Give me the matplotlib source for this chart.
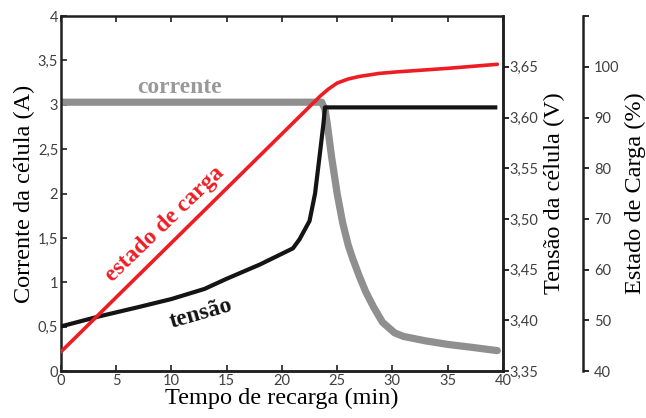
import matplotlib.pyplot as plt
from matplotlib.ticker import FuncFormatter

# ---------------------------------------------------------------------------
# Data
# ---------------------------------------------------------------------------
current_t = [0, 23.6, 23.9, 24.1, 24.5, 25.0, 25.5, 26.0, 26.4, 27.0, 27.6, 28.3,
             29.1, 30.2, 31.0, 33.0, 35.0, 37.0, 39.5]
current_a = [3.03, 3.03, 2.95, 2.79, 2.41, 2.0, 1.67, 1.42, 1.27, 1.07, 0.89, 0.72,
             0.55, 0.43, 0.39, 0.34, 0.30, 0.27, 0.23]

voltage_t = [0, 3.5, 7, 10, 13, 15, 18, 21, 21.6, 22.0, 22.5, 23.0, 23.4, 23.76,
             23.9, 39.5]
voltage_v = [3.394, 3.404, 3.413, 3.421, 3.431, 3.441, 3.455, 3.471, 3.48, 3.488,
             3.498, 3.525, 3.561, 3.594, 3.61, 3.61]

soc_t = [0, 23.5, 24.2, 25.0, 26.0, 27.0, 28.8, 30.4, 35.0, 39.5]
soc_pct = [43.8, 94.3, 95.6, 96.8, 97.6, 98.1, 98.7, 99.0, 99.7, 100.5]

x_ticks = [0, 5, 10, 15, 20, 25, 30, 35, 40]
a_ticks = [0, 0.5, 1, 1.5, 2, 2.5, 3, 3.5, 4]
v_ticks = [3.35, 3.40, 3.45, 3.50, 3.55, 3.60, 3.65]
soc_ticks = [40, 50, 60, 70, 80, 90, 100, 110]

SERIF = "Liberation Serif"
SANS = "Lato"
TICK_COLOR = "#404040"


def comma(fmt):
    return FuncFormatter(lambda v, _: fmt.format(v).replace(".", ","))


fig = plt.figure(figsize=(6.46, 4.18), dpi=100)
ax = fig.add_axes([0.0944, 0.1124, 0.684, 0.849])
ax_v = ax.twinx()
ax_s = ax.twinx()
ax_s.spines["right"].set_position(("axes", 1 + 80 / 442))
for a in (ax_v, ax_s):
    a.spines["top"].set_visible(False)
    a.spines["left"].set_visible(False)
ax_s.spines["bottom"].set_visible(False)

# curves
ax.plot(current_t, current_a, color="#8f8f8f", lw=5.2, solid_capstyle="round",
        solid_joinstyle="round", zorder=2)
ax_v.plot(voltage_t, voltage_v, color="#141414", lw=3.0, solid_capstyle="butt",
          solid_joinstyle="round", zorder=3)
ax_s.plot(soc_t, soc_pct, color="#ee1d23", lw=2.6, solid_capstyle="round",
          solid_joinstyle="round", zorder=4)

# limits and ticks
ax.set_xlim(0, 40)
ax.set_ylim(0, 4)
ax_v.set_ylim(3.35, 3.70)
ax_s.set_ylim(40, 110)

ax.set_xticks(x_ticks)
ax.set_yticks(a_ticks)
ax.yaxis.set_major_formatter(comma("{:g}"))
ax_v.set_yticks(v_ticks)
ax_v.yaxis.set_major_formatter(comma("{:.2f}"))
ax_s.set_yticks(soc_ticks)
ax_s.set_yticklabels([str(v) if v <= 100 else "" for v in soc_ticks])

ax.tick_params(axis="both", direction="in", top=True, length=4, width=1.2,
               labelsize=10.5, colors="#202020", labelcolor=TICK_COLOR, pad=2)
ax_v.tick_params(axis="y", direction="out", length=4, width=1.2,
                 labelsize=10.5, labelcolor=TICK_COLOR, pad=1)
ax_s.tick_params(axis="y", direction="out", length=4, width=1.2,
                 labelsize=10.5, labelcolor=TICK_COLOR, pad=4)
for a in (ax, ax_v, ax_s):
    for lab in a.get_xticklabels() + a.get_yticklabels():
        lab.set_family(SANS)
    for s in a.spines.values():
        s.set_linewidth(1.8)
        s.set_color("#202020")

# axis labels
ax.set_xlabel("Tempo de recarga (min)", family=SERIF, fontsize=17.5, labelpad=0)
ax.set_ylabel("Corrente da célula (A)", family=SERIF, fontsize=17.5, labelpad=2)
ax_v.set_ylabel("Tensão da célula (V)", family=SERIF, fontsize=17.5, labelpad=4)
ax_s.set_ylabel("Estado de Carga (%)", family=SERIF, fontsize=17.5, labelpad=4)

# curve annotations
ax.text(10.75, 3.19, "corrente", family=SERIF, weight="bold", fontsize=17,
        color="#999999", ha="center", va="center")
ax.text(9.4, 1.66, "estado de carga", family=SERIF, weight="bold", fontsize=17,
        color="#ee1d23", ha="center", va="center", rotation=44)
ax.text(12.65, 0.64, "tensão", family=SERIF, weight="bold", fontsize=17,
        color="#141414", ha="center", va="center", rotation=16)

fig.savefig("out.png", dpi=100)
